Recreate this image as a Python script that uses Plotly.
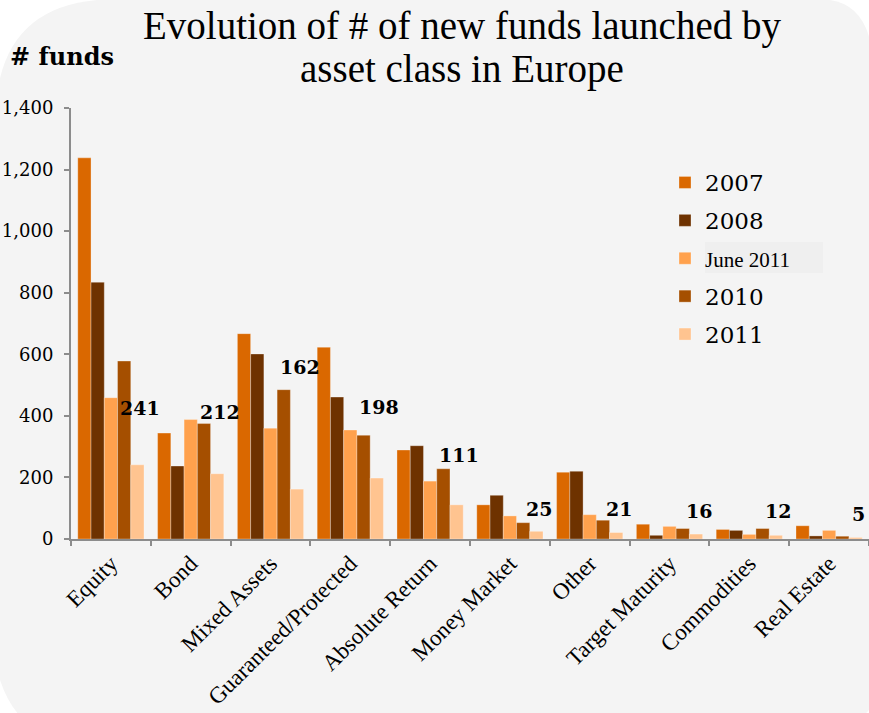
import plotly.graph_objects as go

categories = ["Equity", "Bond", "Mixed Assets", "Guaranteed/Protected", "Absolute Return",
              "Money Market", "Other", "Target Maturity", "Commodities", "Real Estate"]
series_names = ["2007", "2008", "June 2011", "2010", "2011"]
v2007 = [1238, 344, 667, 623, 289, 111, 217, 48, 31, 43]
v2008 = [834, 237, 601, 461, 303, 142, 220, 12, 28, 10]
vjune2011 = [459, 388, 360, 354, 188, 75, 79, 41, 15, 28]
v2010 = [578, 375, 485, 337, 228, 53, 61, 34, 34, 9]
v2011 = [241, 212, 162, 198, 111, 25, 21, 16, 12, 5]
label_y = [427, 412, 558, 429, 273, 99, 99, 90, 90, 80]
y_ticks = [0, 200, 400, 600, 800, 1000, 1200, 1400]
title_lines = ["Evolution of # of new funds launched by", "asset class in Europe"]

colors = ["#DA6800", "#6E3200", "#FFA14D", "#A54F00", "#FFC490"]
all_values = [v2007, v2008, vjune2011, v2010, v2011]

W, H = 869, 713
ML, MR, MT, MB = 71, 0, 108, 174
PW, PH = W - ML - MR, H - MT - MB


def px(x, y):
    return (x - ML) / PW, (H - MB - y) / PH


def path(cmds):
    out = []
    for c in cmds:
        op, pts = c[0], c[1:]
        coords = []
        for (x, y) in pts:
            a, b = px(x, y)
            coords.append(f"{a:.5f},{b:.5f}")
        out.append(op + " ".join(coords))
    return " ".join(out) + " Z"


bg_path = path([
    ("M", (97, 0)),
    ("L", (830, 0)),
    ("Q", (865, 5), (872, 50)),
    ("L", (872, 700)),
    ("Q", (871, 713), (860, 716)),
    ("L", (20, 716)),
    ("Q", (5, 700), (-3, 670)),
    ("L", (-3, 95)),
    ("Q", (8, 8), (97, 0)),
])

fig = go.Figure()
for i, (name, vals) in enumerate(zip(series_names, all_values)):
    disp = name
    if name == "June 2011":
        disp = "<span style='font-family:Liberation Serif;font-size:21px'>June 2011</span>"
    fig.add_trace(go.Bar(
        x=categories, y=vals, name=disp,
        marker=dict(color=colors[i], line=dict(color="rgba(255,255,255,0.3)", width=1)),
        legendgroup=f"g{i}",
    ))

annotations = []
for c, v, ly in zip(categories, v2011, label_y):
    annotations.append(dict(
        x=c, y=ly, xref="x", yref="y", text=f"<b>{v}</b>", showarrow=False,
        xshift=29, font=dict(family="DejaVu Serif", size=19, color="black"),
    ))

for line, cy in zip(title_lines, [25.5, 69.5]):
    tx, ty = px(462, cy)
    annotations.append(dict(
        x=tx, y=ty, xref="paper", yref="paper", xanchor="center", yanchor="middle",
        text=line, showarrow=False,
        font=dict(family="Liberation Serif", size=39, color="black"),
    ))
fx, fy = px(8, 57)
annotations.append(dict(
    x=fx, y=fy, xref="paper", yref="paper", xanchor="left", yanchor="middle",
    text="<b># funds</b>", showarrow=False,
    font=dict(family="DejaVu Serif", size=24, color="black"),
))

bx0, by0 = px(705, 273)
bx1, by1 = px(823, 242)
shapes = [
    dict(type="path", path=bg_path, xref="paper", yref="paper",
         fillcolor="#F4F4F4", line=dict(width=0), layer="below"),
    dict(type="rect", x0=bx0, y0=by0, x1=bx1, y1=by1, xref="paper", yref="paper",
         fillcolor="#EFEFEF", line=dict(width=0), layer="below"),
]

lx, ly0 = px(665, 161)
fig.update_layout(
    width=W, height=H,
    margin=dict(l=ML, r=MR, t=MT, b=MB, autoexpand=False),
    paper_bgcolor="white",
    plot_bgcolor="rgba(0,0,0,0)",
    barmode="group", bargap=0.17, bargroupgap=0,
    font=dict(family="DejaVu Serif", color="black"),
    legend=dict(x=lx, y=ly0, xanchor="left", yanchor="top",
                font=dict(family="DejaVu Serif", size=23, color="black"),
                bgcolor="rgba(0,0,0,0)", tracegroupgap=5, traceorder="grouped"),
    annotations=annotations,
    shapes=shapes,
    xaxis=dict(
        showline=True, linecolor="#8C8C8C", linewidth=2,
        ticks="outside", ticklen=5, tickcolor="#8C8C8C", tickwidth=2,
        tickson="boundaries", tickangle=-45, automargin=False,
        tickfont=dict(family="Liberation Serif", size=23, color="black"),
        showgrid=False, zeroline=False,
    ),
    yaxis=dict(
        range=[0, 1400], tickvals=y_ticks, tickformat=",", automargin=False,
        showline=True, linecolor="#8C8C8C", linewidth=2,
        ticks="outside", ticklen=5, tickcolor="#8C8C8C", tickwidth=2,
        tickfont=dict(family="DejaVu Serif", size=18, color="black"),
        showgrid=False, zeroline=False, ticklabelstandoff=7,
    ),
)

fig.write_html("out.html")
